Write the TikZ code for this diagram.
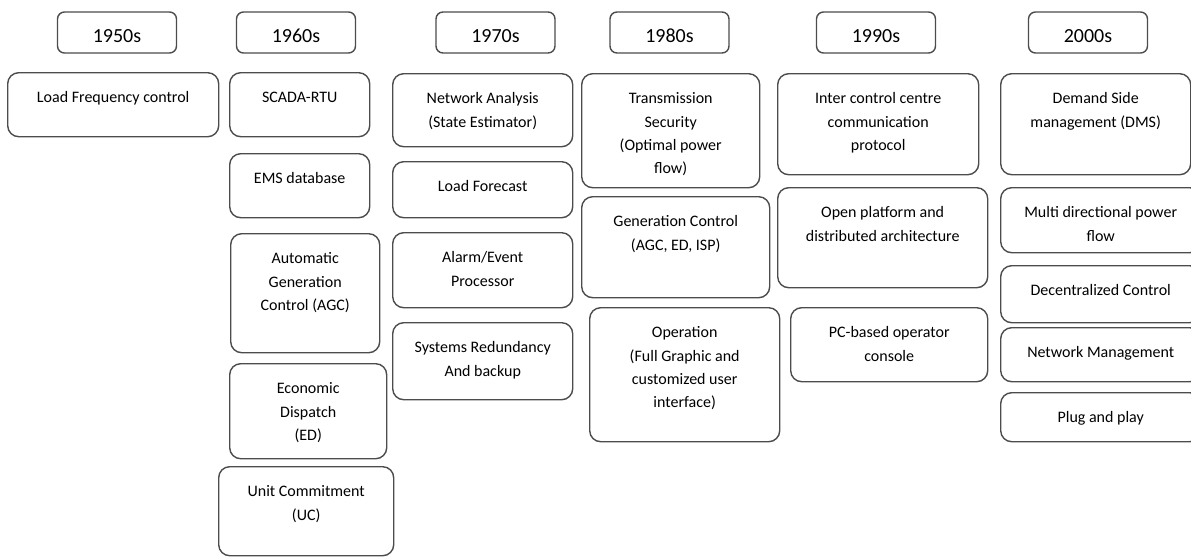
\documentclass[tikz,border=0pt]{standalone}
\usepackage{fontspec}
\setmainfont{Carlito}
\begin{document}
\begin{tikzpicture}[x=1pt,y=-1pt,
  era/.style={draw=black!70,line width=1.4pt,rounded corners=7pt,minimum width=119pt,minimum height=41pt,inner sep=0pt,font=\fontsize{20}{24}\selectfont,text height=19.6pt,text depth=0pt},
  item/.style={draw=black!70,line width=1.4pt,rounded corners=11pt,anchor=north west,inner sep=0pt},
  itext/.style={anchor=north,inner sep=0pt,align=center,font=\fontsize{16}{23.3}\selectfont,yshift=-19.5pt}]
\clip (0,0) rectangle (1191,557);
\foreach \n/\cx/\t in {e50/117/1950s,e60/296/1960s,e70/495.5/1970s,e80/669.5/1980s,e90/876/1990s,e00/1088/2000s}
  \node[era] (\n) at (\cx,32.5) {\t};
\foreach \n/\xa/\ya/\xb/\yb/\t in {
  lfc/7/72/218/136/{Load Frequency control},
  scada/229/72/369/136/{SCADA-RTU},
  ems/229/153/369/217/{EMS database},
  agc/230/233/379/352/{Automatic\\Generation\\Control (AGC)},
  ed/229/363/386/458/{Economic\\Dispatch\\(ED)},
  uc/218/466/393/555/{Unit Commitment\\(UC)},
  na/392/73/572/146/{Network Analysis\\(State Estimator)},
  lf/392/161/572/217/{Load Forecast},
  alarm/392/232/572/307/{Alarm/Event\\Processor},
  sr/392/322/572/399/{Systems Redundancy\\And backup},
  ts/581/73/759/187/{Transmission\\Security\\(Optimal power\\flow)},
  gc/581/196/769/297/{Generation Control\\(AGC, ED, ISP)},
  op/589/307/779/441/{Operation\\(Full Graphic and\\customized user\\interface)},
  icc/777/73/978/174/{Inter control centre\\communication\\protocol},
  opa/777/187/987/287/{Open platform and\\distributed architecture},
  pc/790/307/987/381/{PC-based operator\\console},
  dsm/1000/73/1190/174/{Demand Side\\management (DMS)},
  mdf/1000/187/1200/252/{Multi directional power\\flow},
  dc/1000/265/1200/322/{Decentralized Control},
  nm/1000/327/1200/381/{Network Management},
  pp/1000/392/1200/441/{Plug and play}} {
  \node[item,minimum width=\xb-\xa,minimum height=\yb-\ya] (\n) at (\xa,\ya) {};
  \node[itext] (\n-t) at (\n.north) {\t};
}
\end{tikzpicture}
\end{document}
